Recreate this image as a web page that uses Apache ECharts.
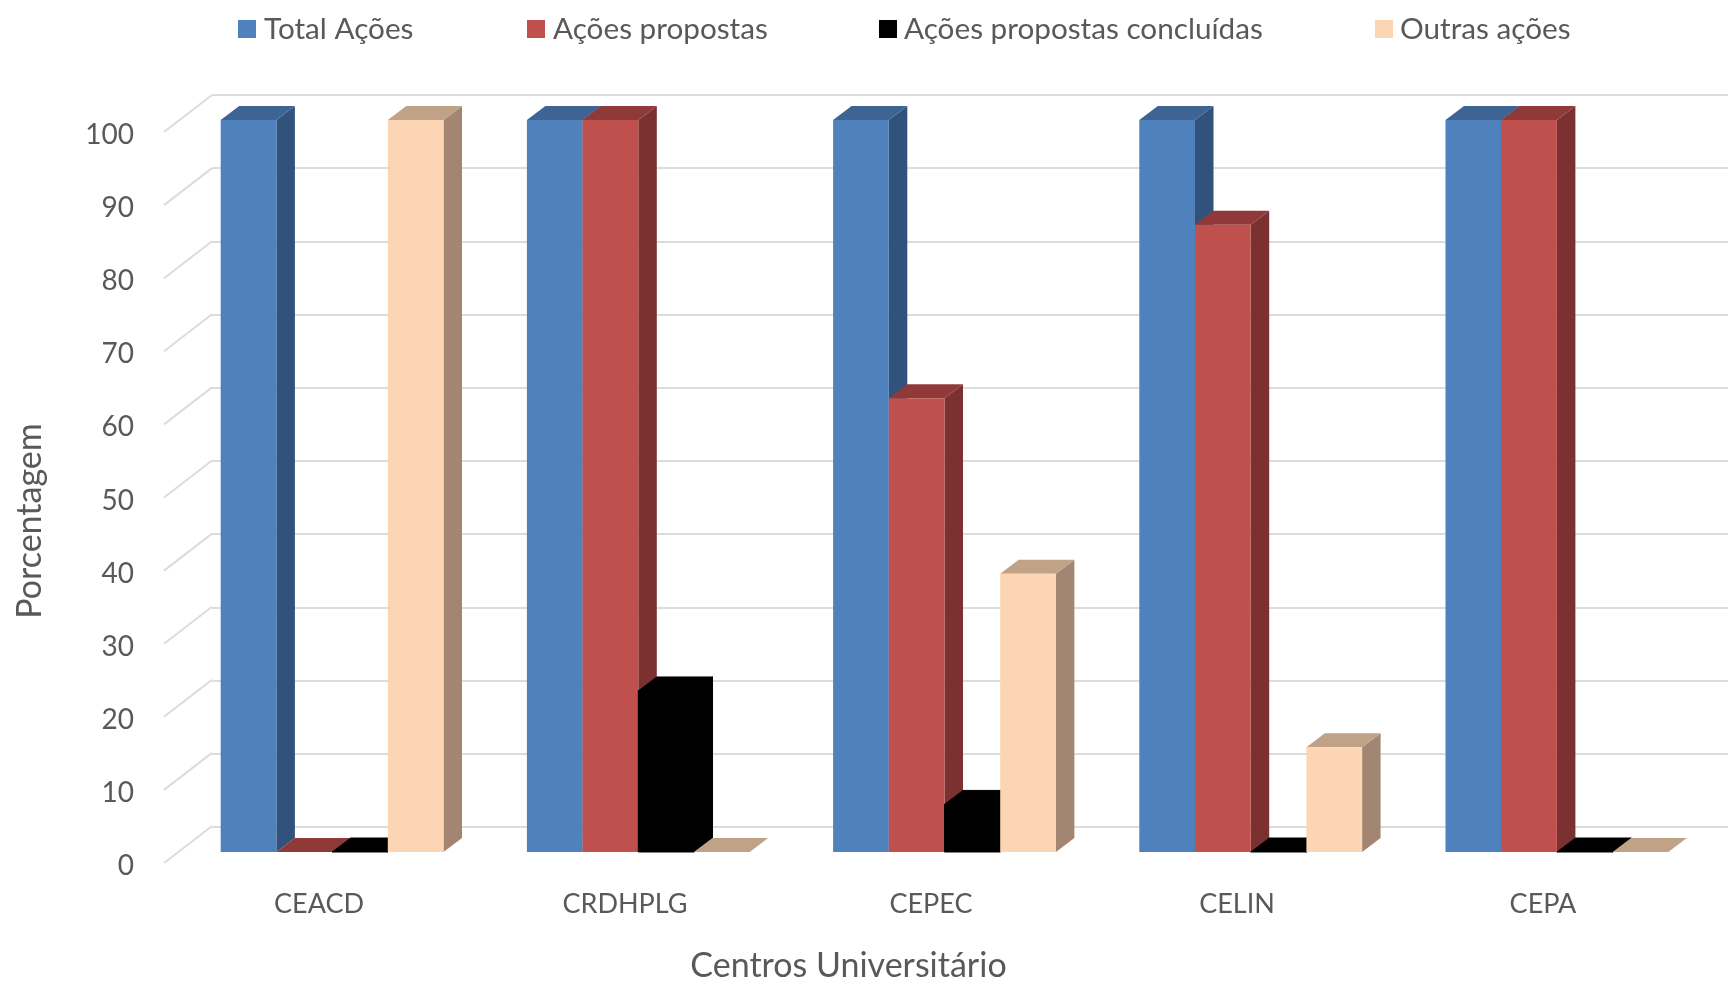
<!DOCTYPE html>
<html><head><meta charset="utf-8">
<style>html,body{margin:0;padding:0;background:#fff}#c{width:1728px;height:981px}</style>
<script src="https://cdn.jsdelivr.net/npm/echarts@6/dist/echarts.min.js"></script>
</head><body><div id="c"></div>
<script>
const categories = ['CEACD','CRDHPLG','CEPEC','CELIN','CEPA'];
const yTicks = [0,10,20,30,40,50,60,70,80,90,100];
const totalAcoes = [100,100,100,100,100];
const acoesPropostas = [0,100,62,85.7,100];
const acoesConcluidas = [0,22,6.5,0,0];
const outrasAcoes = [100,0,38,14.3,0];
const seriesNames = ['Total Ações','Ações propostas','Ações propostas concluídas','Outras ações'];

const FONT = 'Lato';
const TXT = '#595959';
const DX = 18.5, DY = 14, BAR_FRAC = 55.7/306.2;
const LABEL_SHIFT = 3;
const palette = [
  {front:'#4f81bd', side:'#31527a', top:'#3d6493'},
  {front:'#c0504d', side:'#7b3130', top:'#8f3a39'},
  {front:'#000000', side:'#000000', top:'#000000'},
  {front:'#fcd5b5', side:'#a38671', top:'#c0a286'}
];
function bar3d(si){
  return function(params, api){
    const c = api.coord([api.value(0), api.value(1)]);
    const base = api.coord([api.value(0), 0]);
    const w = api.size([1,0])[0]*BAR_FRAC;
    const x0 = c[0] + (si-2)*w, x1 = x0 + w, yT = c[1], yB = base[1];
    const p = palette[si];
    const seam = si===2 ? 1 : 0;
    const st = f => ({fill:f, stroke:seam?f:null, lineWidth:seam});
    const kids = [];
    kids.push({type:'polygon',shape:{points:[[x1,yT],[x1+DX,yT-DY],[x1+DX,yB-DY],[x1,yB]]},style:st(p.side)});
    kids.push({type:'polygon',shape:{points:[[x0,yT],[x0+DX,yT-DY],[x1+DX,yT-DY],[x1,yT]]},style:st(p.top)});
    if (yB-yT>0) kids.push({type:'rect',shape:{x:x0,y:yT,width:w,height:yB-yT},style:st(p.front)});
    return {type:'group',children:kids};
  };
}
const valuesBy = [totalAcoes,acoesPropostas,acoesConcluidas,outrasAcoes];
const legendX = [238,527,879,1375];
const legendGapPad = [3,3,2,2];

const option = {
  backgroundColor:'#ffffff',
  animation:false,
  textStyle:{fontFamily:FONT,color:TXT},
  legend: seriesNames.map((n,i)=>({
    left:legendX[i], top:14, padding:0, data:[n], icon:'rect', itemWidth:18, itemHeight:18,
    selectedMode:false,
    textStyle:{fontFamily:FONT,fontSize:29.7,color:TXT,padding:[0,0,0,legendGapPad[i]]}
  })),
  grid:[
    {left:212,right:0,top:95,height:732},
    {left:166,top:132+LABEL_SHIFT,width:1530,height:731},
    {left:179,top:120,width:1531,height:732}
  ],
  xAxis:[
    {gridIndex:0,type:'category',data:categories,show:false},
    {gridIndex:1,type:'category',data:categories,
      axisLine:{show:false},axisTick:{show:false},
      axisLabel:{margin:28-LABEL_SHIFT,fontFamily:FONT,fontSize:27,color:TXT}},
    {gridIndex:2,type:'category',data:categories,show:false}
  ],
  yAxis:[
    {gridIndex:0,type:'value',min:0,max:100,interval:10,
      axisLine:{show:false},axisTick:{show:false},axisLabel:{show:false},
      splitLine:{show:true,lineStyle:{color:'#dcdcdc',width:2}}},
    {gridIndex:1,type:'value',min:0,max:100,interval:10,
      axisLine:{show:false},axisTick:{show:false},splitLine:{show:false},
      axisLabel:{margin:32,fontFamily:FONT,fontSize:28,color:TXT}},
    {gridIndex:2,type:'value',min:0,max:100,interval:10,show:false,splitLine:{show:false}}
  ],
  graphic:[
    {type:'text',x:30,y:521,rotation:Math.PI/2,silent:true,
      style:{text:'Porcentagem',fontFamily:FONT,fontSize:34,fill:TXT,align:'center',verticalAlign:'middle'}},
    {type:'text',x:848.5,y:966,silent:true,
      style:{text:'Centros Universitário',fontFamily:FONT,fontSize:34,fill:TXT,align:'center',verticalAlign:'middle'}}
  ],
  series:[
    {type:'custom',xAxisIndex:1,yAxisIndex:1,z:1,silent:true,
      data:yTicks.map(t=>[0,t]),encode:{x:0,y:1},
      renderItem(params,api){
        const c = api.coord([0,api.value(1)]);
        const x = params.coordSys.x - 2;
        const y = c[1] - LABEL_SHIFT;
        return {type:'line',shape:{x1:x,y1:y,x2:x+48,y2:y-37},style:{stroke:'#dcdcdc',lineWidth:2}};
      }},
    ...seriesNames.map((n,i)=>({
      type:'custom',name:n,xAxisIndex:2,yAxisIndex:2,z:2+i,silent:true,
      itemStyle:{color:palette[i].front},
      encode:{x:0,y:1},
      data:valuesBy[i].map((v,k)=>[k,v]),
      renderItem:bar3d(i)
    }))
  ]
};
echarts.init(document.getElementById('c'),null,{renderer:'canvas'}).setOption(option);
</script></body></html>
